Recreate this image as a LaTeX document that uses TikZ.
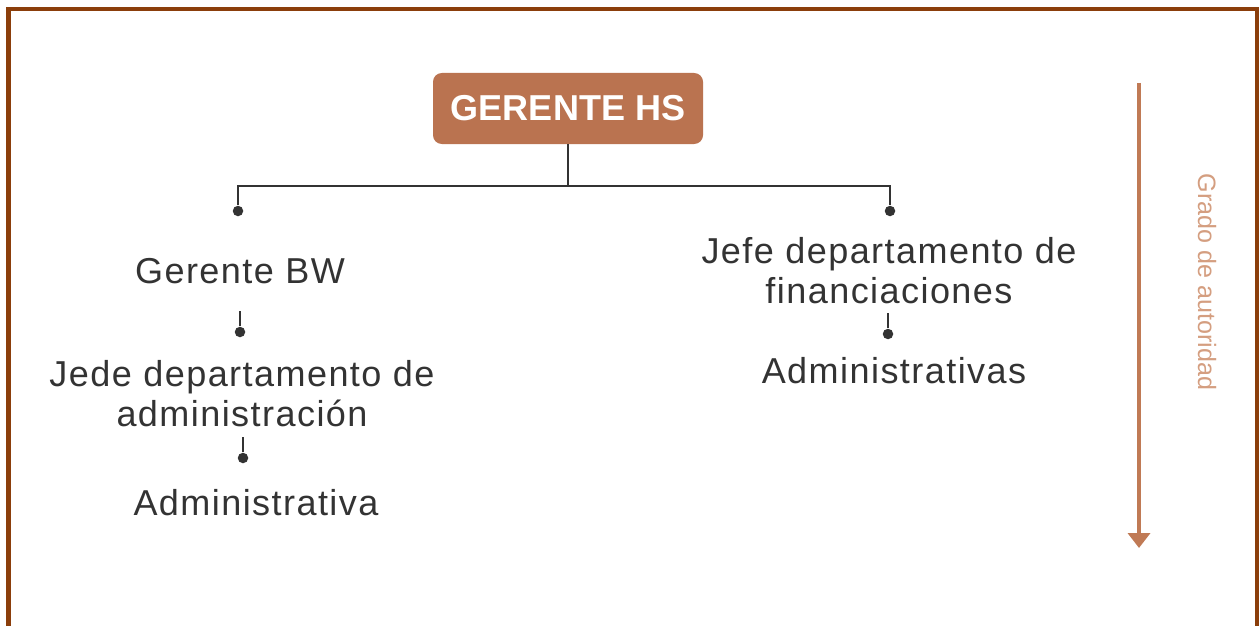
\documentclass[tikz,border=0pt]{standalone}
\usepackage{fontspec}
\setmainfont{Liberation Sans}
\newfontfamily\rolefont{Liberation Sans}[LetterSpace=4]
\usepackage{tikz}
\usetikzlibrary{arrows.meta,positioning,calc}
\definecolor{framebrown}{RGB}{139,62,11}
\definecolor{boxbrown}{RGB}{186,115,80}
\definecolor{arrowbrown}{RGB}{192,122,85}
\definecolor{labelbrown}{RGB}{212,158,128}
\definecolor{inkgray}{RGB}{51,51,51}
\tikzset{twoline/.style={align=center,execute at begin node=\setlength{\baselineskip}{0.8cm}}}

\begin{document}
\begin{tikzpicture}
\tikzset{headbox/.style={fill=boxbrown, rounded corners=5pt, minimum width=5.4cm, minimum height=1.42cm, text=white, font=\fontsize{20.5}{24}\selectfont\bfseries},
  rolename/.style={text=inkgray, inner sep=0pt, font=\rolefont\fontsize{20.5}{24}\selectfont},
  link/.style={inkgray, line width=1.6pt},
  dot/.style={circle, fill=inkgray, inner sep=0pt, minimum size=0.21cm}}
\useasboundingbox (0,0) rectangle (25.18,-12.5);
\draw[framebrown, line width=0.08cm] (0.17,-13) |- (25.13,-0.18) -- (25.13,-13);
\node[headbox] (hs) at (11.36,-2.17) {GERENTE HS};
\coordinate (bar) at (11.36,-3.72);
\node[dot] (d1) at (4.76,-4.22) {};
\node[dot] (d2) at (17.8,-4.22) {};
\draw[link] (hs.south) -- (bar);
\draw[link] (d1) |- (bar) -| (d2);
% left branch
\node[rolename] (bw) at (4.8,-5.42) {Gerente BW};
\node[dot] (d3) at (4.8,-6.64) {};
\node[rolename, twoline] (jede) at (4.84,-7.88) {Jede departamento de\\administración};
\node[dot] (d4) at (4.86,-9.16) {};
\node[rolename] (adm) at (5.12,-10.06) {Administrativa};
% right branch
\node[rolename, twoline] (jefe) at (17.78,-5.42) {Jefe departamento de\\financiaciones};
\node[dot] (d5) at (17.76,-6.68) {};
\node[rolename] (adms) at (17.88,-7.42) {Administrativas};
\foreach \d in {d3,d4,d5} \draw[link] (\d) -- ++(0,0.42);
% authority arrow
\coordinate (top) at (22.78,-1.66);
\coordinate (bottom) at (22.78,-10.96);
\draw[arrowbrown, line width=0.08cm, -{Triangle[width=0.44cm,length=0.3cm]}] (top) -- (bottom);
\node[labelbrown, rotate=-90, font=\fontsize{14.3}{16}\selectfont] (grado) at (24.14,-5.64) {Grado de autoridad};
\end{tikzpicture}
\end{document}
